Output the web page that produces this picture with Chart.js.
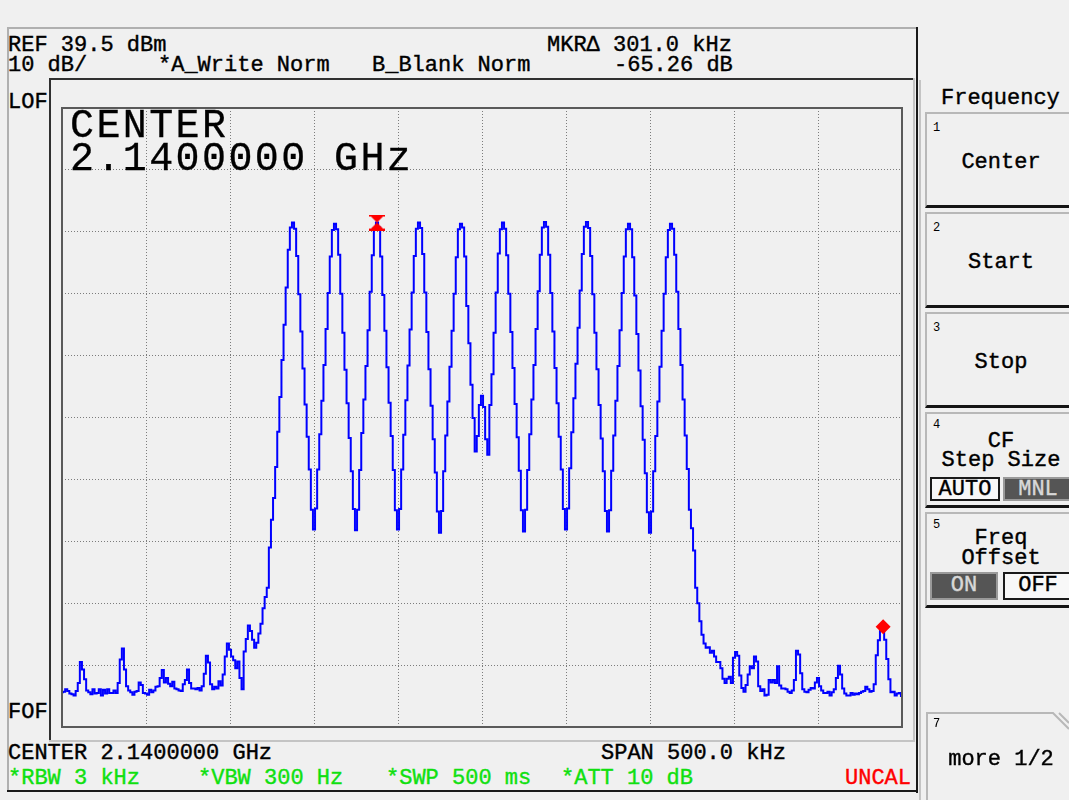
<!DOCTYPE html>
<html>
<head>
<meta charset="utf-8">
<title>Spectrum analyzer - frequency</title>
<script src="https://cdn.jsdelivr.net/npm/chart.js@4.4.1/dist/chart.umd.min.js"></script>
<style>
  body { margin: 0; width: 1069px; height: 800px; overflow: hidden; background: #f0f0f0; position: relative; }
  .t { position: absolute; font-family: "Liberation Mono", monospace; font-size: 22px; line-height: 22px; white-space: pre; color: #000; -webkit-text-stroke-width: 0.4px; }
  .big { position: absolute; font-family: "Liberation Mono", monospace; font-size: 40px; line-height: 40px; letter-spacing: 2.4px; white-space: pre; color: #000; -webkit-text-stroke-width: 0.3px; }
  .num { position: absolute; font-family: "Liberation Mono", monospace; font-size: 12px; line-height: 12px; color: #000; }
  .green { color: #10e010; }
  .red { color: #ff0000; }
  .ln { position: absolute; }
  .sk { position: absolute; left: 925px; width: 150px; border-left: 2px solid #b8b8b8; border-top: 2px solid #b8b8b8; border-bottom: 3px solid #141414; }
  .lbl { position: absolute; left: 926px; width: 150px; text-align: center; }
  .btn { position: absolute; text-align: center; box-sizing: border-box; }
  #canvasTrace { position: absolute; left: 61px; top: 107px; width: 842px; height: 621px; }
</style>
</head>
<body>

<!-- outer panel frame -->
<div class="ln" style="left:7px; top:27px; width:911px; height:2px; background:#b0b0b0;"></div>
<div class="ln" style="left:7px; top:27px; width:2px; height:765px; background:#b0b0b0;"></div>
<div class="ln" style="left:916px; top:27px; width:2px; height:766px; background:#1a1a1a;"></div>
<div class="ln" style="left:7px; top:790px; width:911px; height:2px; background:#1a1a1a;"></div>
<div class="ln" style="left:919px; top:80px; width:2px; height:720px; background:#c4c4c4;"></div>

<!-- inner (sunken) frame round the graticule -->
<div class="ln" style="left:49px; top:78px; width:866px; height:2px; background:#303030;"></div>
<div class="ln" style="left:49px; top:78px; width:2px; height:663px; background:#303030;"></div>
<div class="ln" style="left:913px; top:78px; width:2px; height:664px; background:#c4c4c4;"></div>
<div class="ln" style="left:49px; top:740px; width:866px; height:2px; background:#c4c4c4;"></div>

<!-- header -->
<div class="t" style="left:8px; top:35px;">REF 39.5 dBm</div>
<div class="t" style="left:8px; top:55px;">10 dB/</div>
<div class="t" style="left:158px; top:55px;">*A_Write Norm</div>
<div class="t" style="left:372px; top:55px;">B_Blank Norm</div>
<div class="t" style="left:547px; top:35px;">MKRΔ 301.0 kHz</div>
<div class="t" style="left:614px; top:55px;">-65.26 dB</div>
<div class="t" style="left:8px; top:92px;">LOF</div>
<div class="t" style="left:8px; top:702px;">FOF</div>

<canvas id="canvasTrace" width="842" height="621"></canvas>

<div class="big" style="left:70px; top:107px;">CENTER</div>
<div class="big" style="left:70px; top:140px;">2.1400000 GHz</div>

<!-- footer -->
<div class="t" style="left:8px; top:743px;">CENTER 2.1400000 GHz</div>
<div class="t" style="left:601px; top:743px;">SPAN 500.0 kHz</div>
<div class="t green" style="left:8px; top:768px;">*RBW 3 kHz</div>
<div class="t green" style="left:198px; top:768px;">*VBW 300 Hz</div>
<div class="t green" style="left:386px; top:768px;">*SWP 500 ms</div>
<div class="t green" style="left:561px; top:768px;">*ATT 10 dB</div>
<div class="t red" style="left:845px; top:768px;">UNCAL</div>

<!-- soft key menu -->
<div class="t" style="left:941px; top:88px;">Frequency</div>

<div class="sk" style="top:112px; height:91px;"></div>
<div class="num" style="left:933px; top:122px;">1</div>
<div class="t lbl" style="top:152px;">Center</div>

<div class="sk" style="top:212px; height:91px;"></div>
<div class="num" style="left:933px; top:222px;">2</div>
<div class="t lbl" style="top:252px;">Start</div>

<div class="sk" style="top:312px; height:91px;"></div>
<div class="num" style="left:933px; top:322px;">3</div>
<div class="t lbl" style="top:352px;">Stop</div>

<div class="sk" style="top:412px; height:91px;"></div>
<div class="num" style="left:933px; top:419px;">4</div>
<div class="t lbl" style="top:431px;">CF</div>
<div class="t lbl" style="top:450px;">Step Size</div>
<div class="t btn" style="left:930px; top:477px; width:70px; height:24px; line-height:22px; border:2px solid #1a1a1a; background:#f8f8f8;">AUTO</div>
<div class="t btn" style="left:1003px; top:477px; width:70px; height:24px; line-height:22px; border:2px solid #9a9a9a; background:#555555; color:#d8d8d8;">MNL</div>

<div class="sk" style="top:512px; height:91px;"></div>
<div class="num" style="left:933px; top:519px;">5</div>
<div class="t lbl" style="top:528px;">Freq</div>
<div class="t lbl" style="top:548px;">Offset</div>
<div class="t btn" style="left:930px; top:572px; width:68px; height:28px; line-height:24px; border:2px solid #9a9a9a; background:#555555; color:#d8d8d8;">ON</div>
<div class="t btn" style="left:1003px; top:572px; width:70px; height:28px; line-height:24px; border:2px solid #1a1a1a; background:#f8f8f8;">OFF</div>

<svg style="position:absolute; left:0; top:0;" width="1069" height="800">
  <polyline points="927,800 927,713 1053,713 1069,729" fill="none" stroke="#b8b8b8" stroke-width="2"/>
  <line x1="1059" y1="713" x2="1069" y2="723" stroke="#b8b8b8" stroke-width="2"/>
</svg>
<div class="num" style="left:933px; top:718px;">7</div>
<div class="t lbl" style="top:749px;">more 1/2</div>

<script>
// sweep: 401 points, center 2.14 GHz, span 500 kHz (x is offset from center in kHz)
var SWEEP_START_KHZ = -250;
var SWEEP_STEP_KHZ = 1.25;

// graticule lines
var freqGridKHz = [-250, -200, -150, -100, -50, 0, 50, 100, 150, 200, 250];
var levelGridDbm = [-60.5, -50.5, -40.5, -30.5, -20.5, -10.5, -0.5, 9.5, 19.5, 29.5, 39.5];

// trace A (dBm), points 0..98
var leftNoiseDbm = [
  -54.9, -54.8, -54.4, -54.7, -55.1, -55.2, -55.4, -54.7, -53.4, -50.0,
  -51.2, -52.8, -54.6, -54.9, -55.2, -54.4, -55.1, -55.0, -54.4, -55.4,
  -54.5, -55.1, -54.4, -55.0, -55.0, -54.6, -55.0, -53.4, -49.6, -47.8,
  -51.2, -53.9, -54.6, -54.9, -55.3, -54.8, -54.7, -53.3, -53.7, -55.0,
  -55.1, -55.3, -54.5, -54.9, -54.6, -54.0, -53.9, -52.6, -51.3, -53.3,
  -52.6, -53.5, -53.9, -53.2, -54.3, -54.4, -54.6, -54.7, -53.6, -52.9,
  -51.2, -53.4, -54.3, -54.3, -54.4, -54.2, -54.6, -53.9, -51.9, -49.0,
  -50.1, -53.6, -54.4, -54.0, -54.3, -53.1, -53.8, -52.0, -49.1, -47.0,
  -48.0, -49.1, -49.7, -51.0, -49.9, -52.6, -54.4, -48.3, -46.3, -44.1,
  -45.0, -46.4, -47.7, -46.9, -45.4, -43.8, -41.3, -39.5, -38.0
];

// points 99..301, the ten carriers
var carrierDbm = [
  -31.5,
  -27.0, -23.5, -18.5, -12.8, -7.2, -1.2, 4.5, 10.5, 16.6, 20.2,
  21.0, 20.0, 15.6, 9.4, 3.4, -2.6, -8.4, -13.6, -18.9, -25.4,
  -28.6, -25.2, -18.9, -13.2, -7.8, -2.0, 3.8, 9.6, 15.5, 19.8,
  20.8, 19.9, 15.8, 9.5, 3.2, -2.8, -8.2, -13.8, -19.2, -25.3,
  -28.7, -25.4, -19.0, -13.0, -7.6, -2.2, 3.6, 9.8, 15.7, 20.1,
  21.0, 20.2, 15.5, 9.3, 3.5, -2.4, -8.1, -13.5, -19.0, -25.5,
  -28.6, -25.3, -18.9, -13.3, -7.7, -2.1, 3.7, 9.7, 15.6, 20.0,
  21.0, 20.1, 15.9, 9.7, 3.3, -2.7, -8.6, -14.0, -19.4, -25.7,
  -29.1, -25.6, -19.2, -13.4, -7.9, -2.3, 3.5, 9.5, 15.4, 19.9,
  20.8, 20.2, 15.5, 7.5, 1.5, -5.2, -10.6, -16.0, -13.5, -8.5,
  -7.0, -8.8, -14.0, -16.5, -8.5, -3.5, 3.2, 9.7, 16.0, 19.9,
  21.0, 20.0, 15.7, 9.5, 3.3, -2.5, -8.3, -13.7, -19.1, -25.5,
  -28.9, -25.4, -19.0, -13.2, -7.6, -2.0, 3.8, 9.9, 15.8, 20.2,
  21.1, 20.3, 15.8, 9.6, 3.4, -2.5, -8.2, -13.6, -18.9, -25.3,
  -28.6, -25.2, -18.7, -12.9, -7.4, -1.8, 4.0, 10.0, 15.9, 20.3,
  21.1, 20.1, 15.6, 9.4, 3.2, -2.7, -8.5, -13.9, -19.2, -25.6,
  -28.9, -25.5, -19.1, -13.4, -7.8, -2.2, 3.6, 9.6, 15.5, 19.9,
  20.8, 19.9, 15.4, 9.2, 3.0, -2.9, -8.7, -14.1, -19.5, -25.8,
  -29.1, -25.7, -19.2, -13.5, -7.9, -2.3, 3.5, 9.5, 15.4, 19.8,
  20.8, 20.0, 15.8, 9.8, 3.8, -2.0, -7.6, -13.4, -18.8, -25.4,
  -28.4, -32.0
];

// points 302..400
var rightNoiseDbm = [
  -38.0, -40.5, -43.4, -45.6, -47.0, -47.7, -47.6, -48.5, -48.2, -49.1,
  -50.0, -50.0, -51.0, -52.7, -53.4, -52.7, -52.4, -53.4, -49.3, -48.4,
  -49.0, -52.2, -54.2, -54.8, -53.7, -52.0, -50.7, -51.0, -49.1, -49.9,
  -53.9, -54.7, -54.4, -55.4, -55.3, -52.9, -53.3, -52.9, -53.4, -50.7,
  -53.8, -54.3, -54.3, -54.4, -54.8, -55.0, -54.6, -52.9, -48.2, -48.8,
  -51.8, -54.4, -54.8, -54.9, -54.5, -54.2, -54.3, -53.3, -52.6, -53.9,
  -54.6, -55.0, -55.0, -54.8, -55.4, -54.9, -54.4, -52.6, -50.6, -52.0,
  -54.3, -55.1, -55.4, -55.4, -55.0, -55.3, -55.1, -55.2, -55.0, -54.8,
  -54.7, -54.0, -54.4, -54.8, -54.7, -53.6, -48.9, -46.5, -45.0, -44.3,
  -46.4, -49.5, -52.8, -54.9, -54.8, -55.4, -55.1, -55.0, -55.5
];

// marker 1 (reference) and marker 2 (delta)
var markerFreqKHz = [-62.5, 238.75];
var markerDbm = [21.0, -44.3];

function makeHourglass() {
  // red delta-reference marker
  var c = document.createElement("canvas");
  c.width = 16;
  c.height = 16;
  var ctx = c.getContext("2d");
  ctx.fillStyle = "#ff0000";
  ctx.beginPath();
  ctx.moveTo(0, 0);
  ctx.lineTo(16, 0);
  ctx.lineTo(8, 8);
  ctx.closePath();
  ctx.moveTo(8, 8);
  ctx.lineTo(16, 16);
  ctx.lineTo(0, 16);
  ctx.closePath();
  ctx.fill();
  ctx.fillRect(0, 0, 16, 2);
  ctx.fillRect(0, 14, 16, 2);
  return c;
}

function buildTrace() {
  var traceDbm = leftNoiseDbm.concat(carrierDbm, rightNoiseDbm);
  var points = [];
  for (var i = 0; i < traceDbm.length; i++) {
    points.push({ x: SWEEP_START_KHZ + i * SWEEP_STEP_KHZ, y: traceDbm[i] });
  }
  return points;
}

function buildMarkers() {
  var points = [];
  for (var i = 0; i < markerFreqKHz.length; i++) {
    points.push({ x: markerFreqKHz[i], y: markerDbm[i] });
  }
  return points;
}

// frame round the graticule
var framePlugin = {
  id: "frame",
  afterDraw: function(chart) {
    var a = chart.chartArea;
    var ctx = chart.ctx;
    ctx.save();
    ctx.strokeStyle = "#5a5a5a";
    ctx.lineWidth = 2;
    ctx.strokeRect(a.left, a.top, a.right - a.left, a.bottom - a.top);
    ctx.restore();
  }
};

function gridScale(values) {
  return function(scale) {
    scale.ticks = values.map(function(v) { return { value: v }; });
  };
}

var traceConfig = {
  type: "line",
  data: {
    datasets: [
      {
        label: "markers",
        data: buildMarkers(),
        showLine: false,
        pointStyle: [makeHourglass(), "rectRot"],
        pointRadius: [8, 7.5],
        pointBackgroundColor: "#ff0000",
        pointBorderWidth: 0,
        order: 0
      },
      {
        label: "A_Write",
        data: buildTrace(),
        borderColor: "#0000ff",
        borderWidth: 2,
        stepped: "middle",
        pointRadius: 0,
        fill: false,
        order: 1
      }
    ]
  },
  options: {
    responsive: false,
    animation: false,
    // keep the graticule on the canvas edge (no room for point radius)
    layout: { autoPadding: false, padding: { left: 1, right: 1, top: 1, bottom: 1 } },
    plugins: { legend: { display: false }, tooltip: { enabled: false } },
    scales: {
      x: {
        type: "linear",
        min: -250,
        max: 250,
        afterBuildTicks: gridScale(freqGridKHz),
        ticks: { display: false },
        grid: { color: "#7c7c7c", lineWidth: 1, drawTicks: false },
        border: { display: false, dash: [1, 2] }
      },
      y: {
        type: "linear",
        min: -60.5,
        max: 39.5,
        afterBuildTicks: gridScale(levelGridDbm),
        ticks: { display: false },
        grid: { color: "#7c7c7c", lineWidth: 1, drawTicks: false },
        border: { display: false, dash: [1, 2] }
      }
    }
  },
  plugins: [framePlugin]
};

var traceChart = new Chart(document.getElementById("canvasTrace"), traceConfig);
</script>
</body>
</html>
